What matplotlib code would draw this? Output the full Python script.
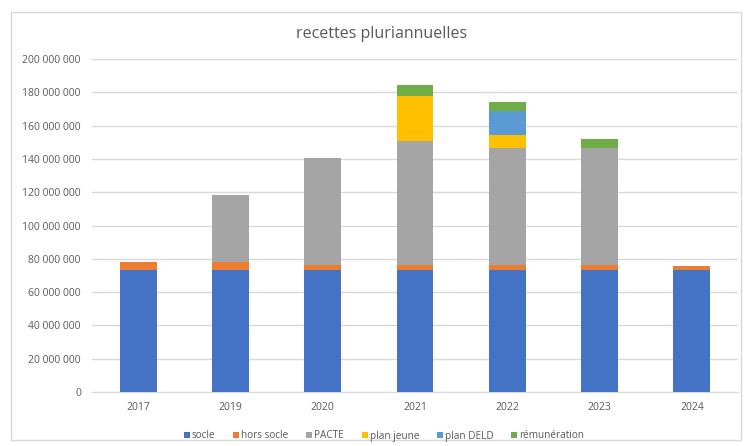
import matplotlib
matplotlib.use("Agg")
import matplotlib.pyplot as plt
import numpy as np
from matplotlib.patches import Rectangle

years = ["2017", "2019", "2020", "2021", "2022", "2023", "2024"]
socle = [73.0e6, 73.0e6, 73.0e6, 73.0e6, 73.0e6, 73.0e6, 73.0e6]
hors_socle = [5.0e6, 5.0e6, 3.0e6, 3.0e6, 3.0e6, 3.0e6, 2.5e6]
pacte = [0, 40.5e6, 64.5e6, 74.5e6, 70.5e6, 70.5e6, 0]
plan_jeune = [0, 0, 0, 27.0e6, 8.0e6, 0, 0]
plan_deld = [0, 0, 0, 0, 14.0e6, 0, 0]
remuneration = [0, 0, 0, 7.0e6, 5.6e6, 5.6e6, 0]

series = [
    ("socle", socle, "#4472C4"),
    ("hors socle", hors_socle, "#ED7D31"),
    ("PACTE", pacte, "#A5A5A5"),
    ("plan jeune", plan_jeune, "#FFC000"),
    ("plan DELD", plan_deld, "#5B9BD5"),
    ("rémunération", remuneration, "#70AD47"),
]
yticks = [0, 20e6, 40e6, 60e6, 80e6, 100e6, 120e6, 140e6, 160e6, 180e6, 200e6]

plt.rcParams['font.family'] = ['Open Sans', 'DejaVu Sans']

W, H = 753, 446
fig = plt.figure(figsize=(W / 100, H / 100), dpi=100)
fig.patches.append(Rectangle((11/W, 1 - 440/H), 730/W, 428/H,
                             transform=fig.transFigure, fill=False,
                             edgecolor="#D9D9D9", linewidth=1.0))
ax = fig.add_axes([92/W, 1 - 392/H, (738 - 92)/W, (392 - 59)/H])

x = np.arange(len(years))
bottom = np.zeros(len(years))
for name, vals, color in series:
    vals = np.array(vals, dtype=float)
    ax.bar(x, vals, width=0.4, bottom=bottom, color=color, label=name, zorder=3)
    bottom += vals

ax.set_ylim(0, 200e6)
ax.set_xlim(-0.5, len(years) - 0.5)
ax.set_yticks(yticks)
ax.set_yticklabels([f"{int(v):,}".replace(",", " ") for v in yticks])
ax.set_xticks(x)
ax.set_xticklabels(years)
ax.yaxis.grid(True, color="#D9D9D9", linewidth=1.0, zorder=0)
ax.set_axisbelow(True)
for s in ["top", "right", "left"]:
    ax.spines[s].set_visible(False)
ax.spines["bottom"].set_color("#D9D9D9")
ax.tick_params(axis="both", length=0, colors="#595959", labelsize=7.5)
ax.tick_params(axis="y", pad=8)
ax.tick_params(axis="x", pad=7)

fig.text(382/W, 1 - 34/H, "recettes pluriannuelles", ha="center", va="center",
         fontsize=11.5, color="#595959")

# legend laid out on a single baseline, evenly spaced, spanning the reference width
leg_left, leg_right = 184, 584
leg_y = 435
renderer = fig.canvas.get_renderer()
texts = []
for name, _, color in series:
    t = fig.text(0, 1 - (leg_y + 3.5) / H, name, ha="left", va="baseline",
                 fontsize=7.2, color="#595959")
    texts.append(t)
widths = [t.get_window_extent(renderer).width for t in texts]
item_w = [8 + w for w in widths]
gap = (leg_right - leg_left - sum(item_w)) / (len(series) - 1)
cx = leg_left
for (name, _, color), t, iw in zip(series, texts, item_w):
    fig.patches.append(Rectangle((cx / W, 1 - (leg_y + 3) / H), 6 / W, 6 / H,
                                 transform=fig.transFigure, facecolor=color,
                                 edgecolor="none"))
    t.set_x((cx + 8) / W)
    cx += iw + gap

fig.savefig("out.png", dpi=100)
